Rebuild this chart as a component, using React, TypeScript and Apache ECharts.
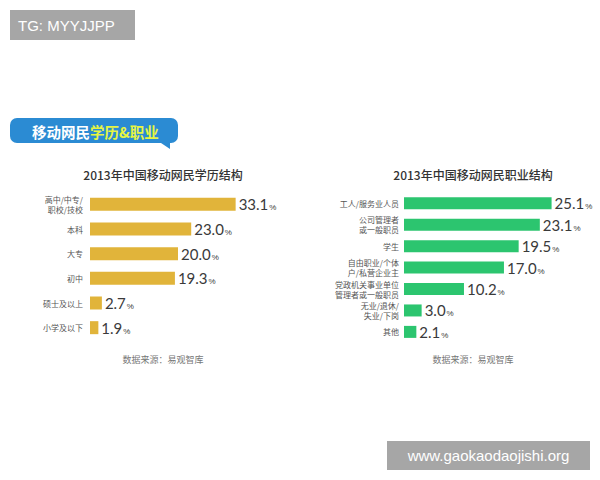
import React, { useEffect, useRef } from "react";
import * as echarts from "echarts";

const eduCategories = ["高中/中专/\n职校/技校", "本科", "大专", "初中", "硕士及以上", "小学及以下"];
const eduValues = [33.1, 23.0, 20.0, 19.3, 2.7, 1.9];
const jobCategories = [
  "工人/服务业人员",
  "公司管理者\n或一般职员",
  "学生",
  "自由职业/个体\n户/私营企业主",
  "党政机关事业单位\n管理者或一般职员",
  "无业/退休/\n失业/下岗",
  "其他",
];
const jobValues = [25.1, 23.1, 19.5, 17.0, 10.2, 3.0, 2.1];

const eduTitle = "2013年中国移动网民学历结构";
const jobTitle = "2013年中国移动网民职业结构";
const sourceText = "数据来源：易观智库";

const CJK = '"Noto Sans CJK SC", "Noto Sans", sans-serif';

export default function App() {
  const ref = useRef<HTMLDivElement>(null);
  useEffect(() => {
    if (!ref.current) return;
    const chart = echarts.init(ref.current, undefined, { renderer: "svg" });
    const labelCfg = {
      show: true,
      position: "right",
      distance: 3,
      formatter: (p: any) => `{a|${p.value.toFixed(1)}}{b|%}`,
      rich: {
        a: { fontSize: 15, color: "#3a3a3a", fontFamily: "Lato, 'Noto Sans', sans-serif" },
        b: { fontSize: 8, color: "#3a3a3a", verticalAlign: "bottom", padding: [0, 0, 0, 1] },
      },
    };
    const titleStyle = { fontSize: 12, fontWeight: 500, color: "#333", fontFamily: CJK };
    const srcStyle = { fontSize: 9, fontWeight: "normal", color: "#777", fontFamily: CJK };
    chart.setOption({
      animation: false,
      backgroundColor: "#ffffff",
      title: [
        { text: eduTitle, left: 158, top: 163, textAlign: "center", textStyle: titleStyle },
        { text: jobTitle, left: 468, top: 163, textAlign: "center", textStyle: titleStyle },
        { text: sourceText, left: 158, top: 350, textAlign: "center", textStyle: srcStyle },
        { text: sourceText, left: 468, top: 350, textAlign: "center", textStyle: srcStyle },
      ],
      grid: [
        { left: 90, top: 192, width: 176, height: 148 },
        { left: 404, top: 192.6, width: 176.4, height: 150 },
      ],
      xAxis: [
        { type: "value", gridIndex: 0, min: 0, max: 40, show: false },
        { type: "value", gridIndex: 1, min: 0, max: 30, show: false },
      ],
      yAxis: [
        {
          type: "category",
          gridIndex: 0,
          inverse: true,
          data: eduCategories,
          axisLine: { show: false },
          axisTick: { show: false },
          axisLabel: { margin: 7, fontSize: 8, color: "#555", fontFamily: CJK, lineHeight: 10 },
        },
        {
          type: "category",
          gridIndex: 1,
          inverse: true,
          data: jobCategories,
          axisLine: { show: false },
          axisTick: { show: false },
          axisLabel: { margin: 5, fontSize: 8, color: "#555", fontFamily: CJK, lineHeight: 10 },
        },
      ],
      series: [
        {
          type: "bar",
          xAxisIndex: 0,
          yAxisIndex: 0,
          data: eduValues,
          barWidth: 13,
          itemStyle: { color: "#E1B43A" },
          label: labelCfg,
        },
        {
          type: "bar",
          xAxisIndex: 1,
          yAxisIndex: 1,
          data: jobValues,
          barWidth: 12,
          itemStyle: { color: "#2CC56F" },
          label: labelCfg,
        },
      ],
      graphic: [
        {
          type: "rect",
          shape: { x: 10, y: 10, width: 125, height: 30 },
          style: { fill: "#a6a6a6" },
        },
        {
          type: "text",
          x: 18,
          y: 25,
          style: {
            text: "TG: MYYJJPP",
            fill: "#ffffff",
            fontSize: 15,
            fontFamily: "'Liberation Sans', Arial, sans-serif",
            verticalAlign: "middle",
          },
        },
        {
          type: "rect",
          shape: { x: 387, y: 441, width: 203, height: 29 },
          style: { fill: "#a6a6a6" },
        },
        {
          type: "text",
          x: 488.5,
          y: 455.5,
          style: {
            text: "www.gaokaodaojishi.org",
            fill: "#ffffff",
            fontSize: 15,
            fontFamily: "'Liberation Sans', Arial, sans-serif",
            align: "center",
            verticalAlign: "middle",
          },
        },
        {
          type: "polygon",
          shape: { points: [[158, 141], [170, 141], [170, 149]] },
          style: { fill: "#2B8BD3" },
        },
        {
          type: "rect",
          shape: { x: 10, y: 118, width: 168, height: 25, r: 7 },
          style: { fill: "#2B8BD3" },
        },
        {
          type: "text",
          x: 32,
          y: 131,
          style: {
            text: "{w|移动网民}{y|学历&职业}",
            verticalAlign: "middle",
            rich: {
              w: { fill: "#ffffff", fontSize: 14.5, fontWeight: "bold", fontFamily: CJK },
              y: { fill: "#E6F542", fontSize: 14.5, fontWeight: "bold", fontFamily: CJK },
            },
          },
        },
      ],
    });
    return () => chart.dispose();
  }, []);
  return (
    <div
      ref={ref}
      style={{ position: "fixed", left: 0, top: 0, width: 600, height: 480, background: "#fff" }}
    />
  );
}
